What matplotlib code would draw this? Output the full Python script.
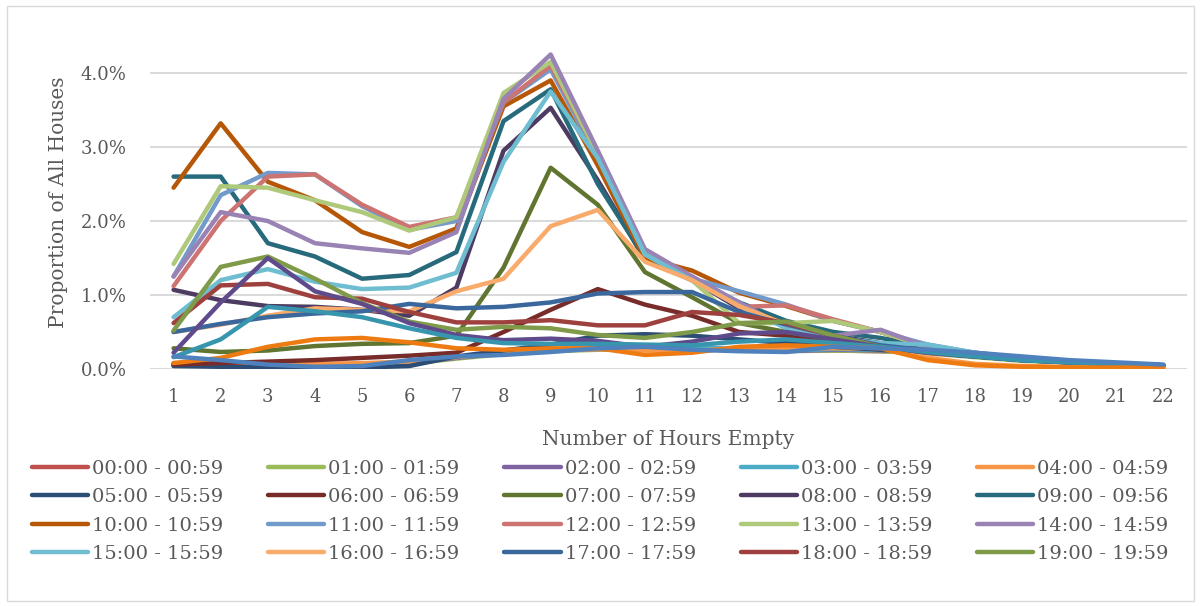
import matplotlib
matplotlib.use("Agg")
import matplotlib.pyplot as plt
from matplotlib.patches import Rectangle
from matplotlib.ticker import FuncFormatter

plt.rcParams["font.family"] = ["DejaVu Serif"]

# --- values (percent of all houses) ---
HOURS_EMPTY = list(range(1, 23))

h00 = [0.06, 0.05, 0.05, 0.05, 0.05, 0.08, 0.15, 0.22, 0.25, 0.27, 0.28, 0.28, 0.27, 0.25, 0.25, 0.24, 0.22, 0.17, 0.12, 0.09, 0.07, 0.05]
h01 = [0.05, 0.04, 0.04, 0.04, 0.04, 0.07, 0.14, 0.20, 0.24, 0.26, 0.27, 0.27, 0.26, 0.24, 0.25, 0.24, 0.21, 0.16, 0.11, 0.09, 0.07, 0.05]
h02 = [0.07, 0.06, 0.05, 0.05, 0.05, 0.08, 0.15, 0.21, 0.25, 0.27, 0.28, 0.28, 0.26, 0.24, 0.26, 0.25, 0.22, 0.17, 0.12, 0.09, 0.07, 0.05]
h03 = [0.08, 0.07, 0.06, 0.05, 0.05, 0.09, 0.16, 0.22, 0.26, 0.28, 0.29, 0.29, 0.27, 0.25, 0.27, 0.26, 0.23, 0.18, 0.12, 0.10, 0.07, 0.05]
h04 = [0.04, 0.05, 0.06, 0.07, 0.08, 0.10, 0.16, 0.22, 0.25, 0.27, 0.25, 0.25, 0.27, 0.28, 0.28, 0.27, 0.15, 0.07, 0.04, 0.03, 0.02, 0.02]
h05 = [0.04, 0.03, 0.02, 0.02, 0.02, 0.04, 0.17, 0.25, 0.33, 0.45, 0.47, 0.45, 0.40, 0.35, 0.30, 0.26, 0.22, 0.17, 0.12, 0.09, 0.07, 0.05]
h06 = [0.06, 0.08, 0.10, 0.12, 0.15, 0.18, 0.22, 0.50, 0.80, 1.08, 0.87, 0.72, 0.50, 0.45, 0.38, 0.30, 0.25, 0.18, 0.13, 0.10, 0.07, 0.05]
h07 = [0.28, 0.23, 0.25, 0.31, 0.34, 0.35, 0.45, 1.37, 2.72, 2.22, 1.31, 0.97, 0.62, 0.50, 0.40, 0.30, 0.25, 0.18, 0.13, 0.10, 0.07, 0.05]
h08 = [1.07, 0.93, 0.85, 0.84, 0.80, 0.72, 1.10, 2.95, 3.53, 2.55, 1.48, 1.20, 0.82, 0.60, 0.45, 0.35, 0.28, 0.20, 0.15, 0.10, 0.07, 0.05]
h09 = [2.60, 2.60, 1.70, 1.52, 1.22, 1.27, 1.58, 3.35, 3.78, 2.50, 1.50, 1.20, 0.90, 0.65, 0.50, 0.42, 0.30, 0.20, 0.15, 0.10, 0.07, 0.05]
h10 = [2.45, 3.32, 2.53, 2.28, 1.85, 1.65, 1.90, 3.55, 3.90, 2.75, 1.50, 1.33, 1.03, 0.85, 0.65, 0.50, 0.30, 0.20, 0.15, 0.10, 0.07, 0.05]
h11 = [1.25, 2.35, 2.65, 2.63, 2.20, 1.88, 2.00, 3.60, 4.05, 2.85, 1.60, 1.22, 1.05, 0.87, 0.65, 0.50, 0.33, 0.22, 0.15, 0.10, 0.07, 0.05]
h12 = [1.12, 2.00, 2.60, 2.63, 2.22, 1.92, 2.05, 3.60, 4.10, 2.90, 1.55, 1.25, 0.84, 0.86, 0.67, 0.50, 0.30, 0.22, 0.15, 0.10, 0.07, 0.05]
h13 = [1.42, 2.47, 2.45, 2.28, 2.12, 1.87, 2.05, 3.73, 4.15, 2.90, 1.55, 1.20, 0.62, 0.62, 0.65, 0.50, 0.30, 0.20, 0.15, 0.10, 0.07, 0.05]
h14 = [1.25, 2.12, 2.00, 1.70, 1.63, 1.57, 1.85, 3.65, 4.25, 2.95, 1.62, 1.25, 0.90, 0.55, 0.45, 0.53, 0.30, 0.20, 0.15, 0.10, 0.07, 0.05]
h15 = [0.70, 1.20, 1.35, 1.18, 1.08, 1.10, 1.30, 2.80, 3.75, 2.85, 1.55, 1.20, 0.85, 0.55, 0.42, 0.35, 0.33, 0.22, 0.15, 0.10, 0.07, 0.05]
h16 = [0.50, 0.60, 0.72, 0.82, 0.80, 0.78, 1.05, 1.22, 1.93, 2.15, 1.45, 1.20, 0.85, 0.60, 0.45, 0.30, 0.20, 0.20, 0.15, 0.10, 0.07, 0.05]
h17 = [0.50, 0.61, 0.70, 0.75, 0.78, 0.88, 0.82, 0.84, 0.90, 1.02, 1.04, 1.04, 0.77, 0.60, 0.45, 0.32, 0.25, 0.20, 0.15, 0.10, 0.07, 0.05]
h18 = [0.62, 1.13, 1.15, 0.97, 0.95, 0.77, 0.63, 0.63, 0.66, 0.59, 0.59, 0.77, 0.73, 0.62, 0.45, 0.30, 0.22, 0.18, 0.13, 0.10, 0.07, 0.05]
h19 = [0.52, 1.38, 1.52, 1.22, 0.89, 0.64, 0.53, 0.57, 0.55, 0.46, 0.42, 0.50, 0.62, 0.64, 0.45, 0.30, 0.22, 0.18, 0.13, 0.10, 0.07, 0.05]
# the legend is cut off after 19:00, these four lines have no entry
h20 = [0.22, 0.90, 1.50, 1.05, 0.88, 0.62, 0.46, 0.39, 0.41, 0.38, 0.30, 0.37, 0.48, 0.50, 0.40, 0.30, 0.22, 0.17, 0.12, 0.09, 0.07, 0.05]
h21 = [0.16, 0.40, 0.84, 0.78, 0.70, 0.55, 0.42, 0.35, 0.34, 0.34, 0.33, 0.32, 0.37, 0.40, 0.35, 0.30, 0.23, 0.17, 0.12, 0.09, 0.07, 0.05]
h22 = [0.08, 0.15, 0.30, 0.40, 0.42, 0.36, 0.28, 0.26, 0.28, 0.28, 0.19, 0.22, 0.30, 0.32, 0.30, 0.28, 0.12, 0.05, 0.03, 0.02, 0.02, 0.02]
h23 = [0.17, 0.12, 0.06, 0.03, 0.04, 0.12, 0.17, 0.19, 0.23, 0.28, 0.30, 0.26, 0.24, 0.23, 0.30, 0.28, 0.26, 0.22, 0.17, 0.12, 0.09, 0.06]

SERIES = [
    ("00:00 - 00:59", h00), ("01:00 - 01:59", h01), ("02:00 - 02:59", h02),
    ("03:00 - 03:59", h03), ("04:00 - 04:59", h04), ("05:00 - 05:59", h05),
    ("06:00 - 06:59", h06), ("07:00 - 07:59", h07), ("08:00 - 08:59", h08),
    ("09:00 - 09:56", h09), ("10:00 - 10:59", h10), ("11:00 - 11:59", h11),
    ("12:00 - 12:59", h12), ("13:00 - 13:59", h13), ("14:00 - 14:59", h14),
    ("15:00 - 15:59", h15), ("16:00 - 16:59", h16), ("17:00 - 17:59", h17),
    ("18:00 - 18:59", h18), ("19:00 - 19:59", h19), ("20:00 - 20:59", h20),
    ("21:00 - 21:59", h21), ("22:00 - 22:59", h22), ("23:00 - 23:59", h23),
]
N_LEGEND = 20

COLORS = [
    "#C0504D", "#9BBB59", "#8064A2", "#4BACC6", "#F79646", "#2C4D75",
    "#772C2A", "#5F7530", "#4D3B62", "#276A7C", "#B65708", "#729ACA",
    "#CD7371", "#AFC97A", "#9983B5", "#6FBDD1", "#F9AB6B", "#3A679C",
    "#9E413E", "#7F9A48", "#5F4B8B", "#3795AE", "#EE7A12", "#4F81BD",
]

TEXT = "#595959"
GRID = "#D9D9D9"

W, H = 1201, 606
fig = plt.figure(figsize=(W / 100, H / 100), dpi=100)
ax = fig.add_axes([150 / W, 1 - 369 / H, (1187 - 150) / W, (369 - 36) / H])

handles = []
for i, (label, vals) in enumerate(SERIES):
    (ln,) = ax.plot(HOURS_EMPTY, [v / 100 for v in vals], color=COLORS[i], lw=3.2,
                    solid_capstyle="round", solid_joinstyle="round", label=label)
    handles.append(ln)

ax.set_xlim(0.5, 22.5)
ax.set_ylim(0, 0.045)
ax.set_xticks(HOURS_EMPTY)
ax.set_yticks([0, 0.01, 0.02, 0.03, 0.04])
ax.yaxis.set_major_formatter(FuncFormatter(lambda v, _: f"{v * 100:.1f}%"))
ax.grid(axis="y", color=GRID, lw=1.4)
ax.set_axisbelow(True)
for s in ax.spines.values():
    s.set_visible(False)
ax.tick_params(axis="both", length=0, labelsize=13, colors=TEXT)
ax.tick_params(axis="y", pad=17)
ax.tick_params(axis="x", pad=14)

ax.set_ylabel("Proportion of All Houses", fontsize=14.5, color=TEXT, labelpad=9)
ax.set_xlabel("Number of Hours Empty", fontsize=14.5, color=TEXT, labelpad=17)

# Excel legend fills row by row, matplotlib column by column
rows, cols = 4, 5
order = [r * cols + c for c in range(cols) for r in range(rows)]
fig.legend([handles[k] for k in order], [SERIES[k][0] for k in order],
           loc="upper left", bbox_to_anchor=(24 / W, 1 - 452 / H), ncol=cols,
           frameon=False, fontsize=14, labelcolor=TEXT, handlelength=2.9,
           handletextpad=0.2, columnspacing=2.3, labelspacing=0.54,
           borderaxespad=0)

fig.patches.append(Rectangle((7 / W, 5 / H), (1194 - 7) / W, (600 - 5) / H,
                             transform=fig.transFigure, fill=False,
                             edgecolor=GRID, lw=1))

fig.savefig("out.png", dpi=100)
